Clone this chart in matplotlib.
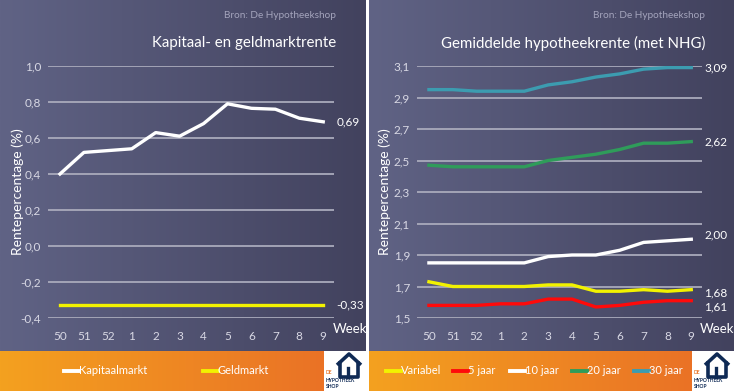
import numpy as np
import matplotlib
matplotlib.use("Agg")
import matplotlib.pyplot as plt
from matplotlib.colors import LinearSegmentedColormap

plt.rcParams['font.family'] = ['Lato', 'DejaVu Sans']

weeks = ["50", "51", "52", "1", "2", "3", "4", "5", "6", "7", "8", "9"]

kapitaalmarkt = [0.40, 0.52, 0.53, 0.54, 0.63, 0.61, 0.68, 0.79, 0.765, 0.76, 0.71, 0.69]
geldmarkt = [-0.33, -0.33, -0.33, -0.33, -0.33, -0.33, -0.33, -0.33, -0.33, -0.33, -0.33, -0.33]

variabel = [1.73, 1.70, 1.70, 1.70, 1.70, 1.71, 1.71, 1.67, 1.67, 1.68, 1.67, 1.68]
jaar5 = [1.58, 1.58, 1.58, 1.59, 1.59, 1.62, 1.62, 1.57, 1.58, 1.60, 1.61, 1.61]
jaar10 = [1.85, 1.85, 1.85, 1.85, 1.85, 1.89, 1.90, 1.90, 1.93, 1.98, 1.99, 2.00]
jaar20 = [2.47, 2.46, 2.46, 2.46, 2.46, 2.50, 2.52, 2.54, 2.57, 2.61, 2.61, 2.62]
jaar30 = [2.95, 2.95, 2.94, 2.94, 2.94, 2.98, 3.00, 3.03, 3.05, 3.08, 3.09, 3.09]

left_ticks = [-0.4, -0.2, 0.0, 0.2, 0.4, 0.6, 0.8, 1.0]
right_ticks = [1.5, 1.7, 1.9, 2.1, 2.3, 2.5, 2.7, 2.9, 3.1]

W, H = 734, 391
fig = plt.figure(figsize=(W / 100, H / 100), dpi=100)
fig.patch.set_facecolor('white')

def fx(px):
    return px / W

def fy(py):
    return 1 - py / H

bg_cmap = LinearSegmentedColormap.from_list('bg', ['#606385', '#42425e'])
or_cmap = LinearSegmentedColormap.from_list('or', ['#f4a11f', '#ea7226'])
grad = np.linspace(0, 1, 256).reshape(1, -1)

def panel(x0, x1):
    ax = fig.add_axes([fx(x0), fy(351), fx(x1 - x0), 351 / H])
    ax.imshow(grad, aspect='auto', cmap=bg_cmap, extent=[0, 1, 0, 1])
    ax.set_axis_off()
    ax2 = fig.add_axes([fx(x0), 0, fx(x1 - x0 - 42), 40 / H])
    ax2.imshow(grad, aspect='auto', cmap=or_cmap, extent=[0, 1, 0, 1])
    ax2.set_axis_off()
    lx0 = x1 - 42
    lg = fig.add_axes([fx(lx0), 0, fx(42), 40 / H])
    lg.set_xlim(0, 42)
    lg.set_ylim(40, 0)
    lg.set_facecolor('white')
    lg.set_xticks([])
    lg.set_yticks([])
    for s in lg.spines.values():
        s.set_visible(False)
    navy = '#0f2a55'
    lg.plot([13, 25, 37], [14, 3, 14], color=navy, lw=2.6, solid_capstyle='butt')
    lg.plot([16, 16, 34, 34], [12, 26, 26, 12], color=navy, lw=2.6)
    lg.plot([24, 24], [17, 26], color=navy, lw=2.4)
    lg.text(1.5, 22, 'DE', fontsize=3.6, color='#e8762a', fontweight='bold', va='center')
    lg.text(1.5, 29, 'HYPOTHEEK', fontsize=3.6, color=navy, fontweight='bold', va='center')
    lg.text(1.5, 35, 'SHOP', fontsize=3.6, color=navy, fontweight='bold', va='center')
    return ax

panel(0, 366)
panel(369, 734)

def chart(x0, x1, y0, y1, ticks, series, colors, labels_right, title, title_x, ylab_x, week_x):
    ax = fig.add_axes([fx(x0), fy(y1), fx(x1 - x0), (y1 - y0) / H])
    ax.patch.set_alpha(0)
    x = np.arange(len(weeks))
    for s, c in zip(series, colors):
        ax.plot(x, s, color=c, lw=2.4, solid_joinstyle='round', zorder=3)
    ax.set_xlim(-0.5, 11.45)
    ax.set_ylim(ticks[0], ticks[-1])
    ax.set_yticks(ticks)
    ax.set_yticklabels([f"{t:.1f}".replace('.', ',') for t in ticks])
    ax.set_xticks(x)
    ax.set_xticklabels(weeks)
    ax.tick_params(axis='both', colors='#d8d8e4', labelsize=8.5, length=0, pad=5)
    ax.tick_params(axis='x', pad=9)
    ax.grid(axis='y', color='#a9aabb', lw=1.3, zorder=1)
    for s in ax.spines.values():
        s.set_visible(False)
    for txt, val in labels_right:
        ax.text(11.55, val, txt, color='white', fontsize=8.5, va='center', ha='left')
    fig.text(fx(week_x), fy(329), 'Week', color='white', fontsize=9.5, ha='left', va='center',
             zorder=10)
    fig.text(fx(title_x), fy(43), title, color='white', fontsize=10.8, ha='right', va='center')
    fig.text(fx(title_x), fy(16), 'Bron: De Hypotheekshop', color='#a4a4bc', fontsize=7.2,
             ha='right', va='center')
    fig.text(fx(ylab_x), fy(192), 'Rentepercentage (%)', color='white', fontsize=10, rotation=90,
             ha='center', va='center')
    return ax

chart(48, 334, 66, 318, left_ticks, [kapitaalmarkt, geldmarkt], ['white', '#f2f200'],
      [("0,69", kapitaalmarkt[-1]), ("-0,33", geldmarkt[-1])],
      'Kapitaal- en geldmarktrente', 336, 18, 333)

chart(417, 702, 66, 318, right_ticks, [jaar30, jaar20, jaar10, variabel, jaar5],
      ['#3c9cb0', '#2f9c5a', 'white', '#f2f200', '#ff0a0a'],
      [("3,09", jaar30[-1]), ("2,62", jaar20[-1]), ("2,00", jaar10[-1] + 0.03),
       ("1,68", variabel[-1] - 0.02), ("1,61", jaar5[-1] - 0.04)],
      'Gemiddelde hypotheekrente (met NHG)', 705, 385, 700)

def legend_item(x0, label, color):
    fig.add_artist(plt.Line2D([fx(x0), fx(x0 + 15)], [fy(371), fy(371)], color=color, lw=2.8,
                              transform=fig.transFigure))
    fig.text(fx(x0 + 15), fy(371), label, color='white', fontsize=8, ha='left', va='center')

legend_item(64, 'Kapitaalmarkt', 'white')
legend_item(203, 'Geldmarkt', '#f2f200')
legend_item(386, 'Variabel', '#f2f200')
legend_item(453, '5 jaar', '#ff0a0a')
legend_item(510, '10 jaar', 'white')
legend_item(572, '20 jaar', '#2f9c5a')
legend_item(634, '30 jaar', '#3c9cb0')

fig.savefig('out.png', dpi=100, facecolor='white')
